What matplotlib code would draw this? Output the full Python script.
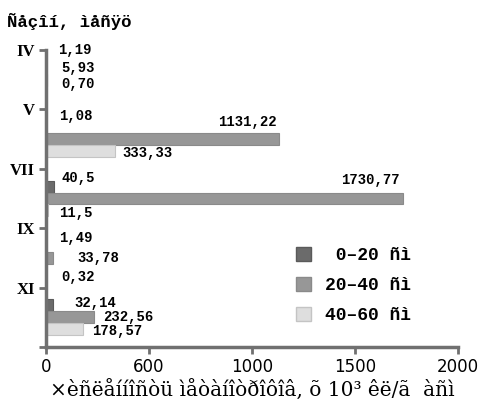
import numpy as np
import matplotlib.pyplot as plt
from matplotlib.patches import Patch

months = ['IV', 'V', 'VII', 'IX', 'XI']
depth_0_20 = [1.19, 1.08, 40.5, 1.49, 32.14]
depth_20_40 = [5.93, 1131.22, 1730.77, 33.78, 232.56]
depth_40_60 = [0.70, 333.33, 11.5, 0.32, 178.57]
text_0_20 = ['1,19', '1,08', '40,5', '1,49', '32,14']
text_20_40 = ['5,93', '1131,22', '1730,77', '33,78', '232,56']
text_40_60 = ['0,70', '333,33', '11,5', '0,32', '178,57']
series_names = [' 0\u201320 \u00f1\u00ec', '20\u201340 \u00f1\u00ec', '40\u201360 \u00f1\u00ec']
x_ticks = [0, 500, 1000, 1500, 2000]
x_tick_labels = ['0', '600', '1000', '1500', '2000']

colors = ['#6b6b6b', '#979797', '#dedede']
edges = ['#5a5a5a', '#8a8a8a', '#c4c4c4']
mono = 'Liberation Mono'

# label offsets in pixels (dx, dy, ha) per series / month
offsets = [
    [(12, 18, 'left'), (13, 11, 'left'), (7, 9, 'left'), (13, 8, 'left'), (22, 2, 'left')],
    [(14, 12, 'left'), (-2, 17, 'right'), (-3, 18, 'right'), (24, 0, 'left'), (9, 0, 'left')],
    [(15, 8, 'left'), (8, -2, 'left'), (11, -3, 'left'), (15, -7, 'left'), (9, -2, 'left')],
]

fig = plt.figure(figsize=(4.8, 4.01), dpi=100)
ax = fig.add_axes([46 / 480, 1 - 347 / 401, 412 / 480, 297 / 401])

y = np.arange(len(months))
h = 0.2
series = [depth_0_20, depth_20_40, depth_40_60]
texts = [text_0_20, text_20_40, text_40_60]
for k, vals in enumerate(series):
    pos = y + (k - 1) * h
    ax.barh(pos, vals, height=h, color=colors[k], edgecolor=edges[k], linewidth=0.8)
    for i, v in enumerate(vals):
        dx, dy, ha = offsets[k][i]
        ax.annotate(texts[k][i], (v, pos[i]), xytext=(dx, dy), textcoords='offset pixels',
                    ha=ha, va='center', fontsize=10, fontweight='bold', family=mono)

ax.set_xlim(0, 2000)
ax.set_ylim(len(months) - 0.5, -0.5)
ax.set_xticks(x_ticks)
ax.set_xticklabels(x_tick_labels, fontsize=12, family='DejaVu Sans')
ax.set_yticks(np.arange(len(months) + 1) - 0.5)
ax.set_yticklabels(months + [''], fontsize=12, fontweight='bold', family='Liberation Serif')

for s in ['top', 'right']:
    ax.spines[s].set_visible(False)
for s in ['left', 'bottom']:
    ax.spines[s].set_color('#707070')
    ax.spines[s].set_linewidth(2.5)
ax.tick_params(axis='both', color='#707070', width=2, length=5, pad=3)

fig.text(7 / 480, 1 - 22 / 401, '\u00d1\u00e5\u00e7\u00ee\u00ed, \u00ec\u00e5\u00f1\u00ff\u00f6',
         fontsize=12.5, fontweight='bold', family=mono, va='center')
ax.set_xlabel('\u00d7\u00e8\u00f1\u00eb\u00e5\u00ed\u00ed\u00ee\u00f1\u00f2\u00fc '
              '\u00ec\u00e5\u00f2\u00e0\u00ed\u00ee\u00f2\u00f0\u00ee\u00f4\u00ee\u00e2, '
              '\u00f5 10\u00b3 \u00ea\u00eb/\u00e3  \u00e0\u00f1\u00ec',
              fontsize=14.5, family='DejaVu Serif', labelpad=2)

handles = [Patch(facecolor=colors[k], edgecolor=edges[k]) for k in range(3)]
ax.legend(handles, series_names, loc='upper left', bbox_to_anchor=(280 / 480, 1 - 231 / 401),
          bbox_transform=fig.transFigure, frameon=False, handlelength=0.8, handleheight=0.8,
          handletextpad=0.8, labelspacing=0.7,
          prop={'family': mono, 'weight': 'bold', 'size': 13})

fig.savefig('out.png', dpi=100)
